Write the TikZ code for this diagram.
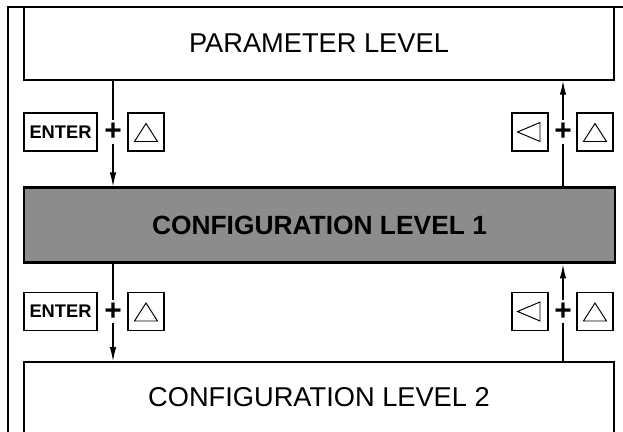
\documentclass[tikz,border=0pt]{standalone}
\usepackage{fontspec}
\setmainfont{Liberation Sans}
\usetikzlibrary{arrows.meta}

\tikzset{
  lvlbox/.style = {draw, line width=0.85pt, minimum width=11.8cm, minimum height=1.46cm, font=\fontsize{15.5}{18}\selectfont},
  keybox/.style = {draw, line width=0.8pt, minimum width=0.72cm, minimum height=0.76cm, inner sep=0pt},
  plussign/.style = {font=\fontsize{17}{17}\selectfont\bfseries, inner sep=1.5pt},
  link/.style = {line width=0.7pt},
  goarrow/.style = {link, -{Latex[length=2.8mm,width=1.3mm]}},
  pics/uptri/.style = {code={\draw[line width=0.55pt] (-0.23,-0.19) -- (0.23,-0.19) -- (0,0.17) -- cycle;}},
  pics/lefttri/.style = {code={\draw[line width=0.55pt] (-0.25,0) -- (0.2,0.19) -- (0.2,-0.19) -- cycle;}}
}

\begin{document}
\begin{tikzpicture}
\useasboundingbox (0,0) rectangle (12.46,8.64);
\clip (0,0) rectangle (12.46,8.64);
\draw[line width=0.6pt] (0.16,-0.1) -- (0.16,8.5) -- (12.6,8.5);

\node[lvlbox] (param) at (6.38,7.77) {PARAMETER LEVEL};
\node[lvlbox, fill=black!45, line width=1.7pt, minimum width=11.82cm, minimum height=1.5cm,
      font=\fontsize{15}{18}\selectfont\bfseries] (confa) at (6.39,4.13) {CONFIGURATION LEVEL 1};
\node[lvlbox, minimum height=1.6cm, text depth=0.2cm] (confb) at (6.38,0.6) {CONFIGURATION LEVEL 2};

\foreach \y/\n in {6.0/a, 2.41/b}
{
	\node[keybox, minimum width=1.46cm, font=\fontsize{10.4}{12}\selectfont\bfseries] (enter\n) at (1.21,\y) {ENTER};
	\node[plussign] (plusl\n) at (2.26,\y) {+};
	\node[keybox] (upl\n) at (2.92,\y) {};
	\node[keybox] (left\n) at (10.6,\y) {};
	\node[plussign] (plusr\n) at (11.26,\y) {+};
	\node[keybox] (upr\n) at (11.9,\y) {};
	\pic at (upl\n) {uptri};
	\pic at (upr\n) {uptri};
	\pic at (left\n) {lefttri};
}

\draw[link] (param.south -| plusla) -- (plusla);
\draw[goarrow] (plusla) -- (plusla |- confa.north);
\draw[link] (confa.north -| plusra) -- (plusra);
\draw[goarrow] (plusra) -- (plusra |- param.south);

\draw[link] (confa.south -| pluslb) -- (pluslb);
\draw[goarrow] (pluslb) -- (pluslb |- confb.north);
\draw[link] (confb.north -| plusrb) -- (plusrb);
\draw[goarrow] (plusrb) -- (plusrb |- confa.south);
\end{tikzpicture}
\end{document}
